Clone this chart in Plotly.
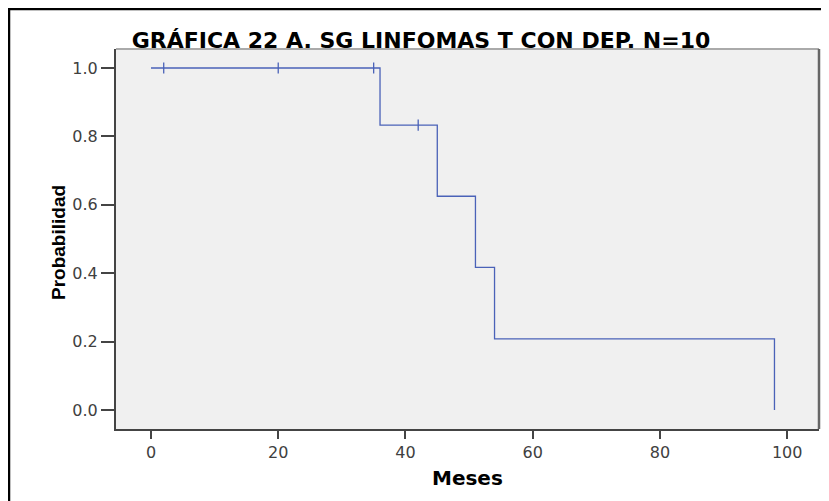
import plotly.graph_objects as go

# Kaplan-Meier step data
step_times = [0, 36, 45, 51, 54, 98]
step_surv = [1.0, 0.833, 0.625, 0.417, 0.208, 0.0]
censor_times = [2, 20, 35, 42]
censor_surv = [1.0, 1.0, 1.0, 0.833]
x_ticks = [0, 20, 40, 60, 80, 100]
y_ticks = [0.0, 0.2, 0.4, 0.6, 0.8, 1.0]
y_tick_labels = ["0.0", "0.2", "0.4", "0.6", "0.8", "1.0"]

line_color = "#4a62b8"
wide_font = "DejaVu Sans, Verdana, sans-serif"
arial = "Liberation Sans, Arial, sans-serif"

# page body has an 8px margin: work in figure pixels = reference pixels - 8
OFF = 8
W, H = 829 - OFF, 501 - OFF
L, R, T, B = 116 - OFF, 819 - OFF, 49 - OFF, 429 - OFF
pw, ph = R - L, B - T

def px(xp):
    return (xp - OFF - L) / pw

def py(yp):
    return (B - (yp - OFF)) / ph

fig = go.Figure()
fig.add_trace(go.Scatter(
    x=step_times, y=step_surv, mode="lines", line_shape="hv",
    line=dict(color=line_color, width=1.3), showlegend=False, hoverinfo="skip"))
fig.add_trace(go.Scatter(
    x=censor_times, y=censor_surv, mode="markers",
    marker=dict(symbol="line-ns", size=8, line=dict(color=line_color, width=1.3)),
    showlegend=False, hoverinfo="skip"))

fig.update_layout(
    width=W, height=H,
    margin=dict(l=L, r=W - R, t=T, b=H - B),
    paper_bgcolor="white", plot_bgcolor="#f0f0f0",
    font=dict(family=wide_font, color="#404040"),
    title=dict(text="<b>GRÁFICA 22 A. SG LINFOMAS T CON DEP. N=10</b>",
               x=(421 - OFF) / W, xanchor="center", xref="container",
               y=1 - (40 - OFF) / H, yanchor="middle", yref="container",
               font=dict(size=22, color="black", family=wide_font)),
    xaxis=dict(range=[-5.5, 105], tickvals=x_ticks, ticks="outside", ticklen=8,
               tickwidth=2, tickcolor="#444", showgrid=False, zeroline=False,
               showline=True, linecolor="#444", linewidth=2,
               tickfont=dict(size=16, color="#404040", family=wide_font)),
    yaxis=dict(range=[-0.0556, 1.0556], tickvals=y_ticks, ticktext=y_tick_labels,
               ticks="outside", ticklen=13, tickwidth=2, tickcolor="#444",
               showgrid=False, zeroline=False, showline=True, linecolor="#444",
               linewidth=2, tickfont=dict(size=16, color="#404040", family=wide_font)),
    annotations=[
        dict(text="<b>Probabilidad</b>", textangle=-90, x=px(58), y=py(243),
             xref="paper", yref="paper", xanchor="center", yanchor="middle",
             showarrow=False,
             font=dict(size=19, color="black", family=arial)),
        dict(text="<b>Meses</b>", x=px(467), y=py(478), xref="paper", yref="paper",
             xanchor="center", yanchor="middle",
             showarrow=False, font=dict(size=20, color="black", family=wide_font)),
    ],
    shapes=[
        # plot frame top and right
        dict(type="line", xref="paper", yref="paper", x0=0, x1=1, y0=1, y1=1,
             line=dict(color="#aaaaaa", width=2)),
        dict(type="line", xref="paper", yref="paper", x0=1, x1=1, y0=0, y1=1,
             line=dict(color="#666666", width=2.5)),
        # outer black frame (left and top)
        dict(type="line", xref="paper", yref="paper", x0=px(9), x1=px(9),
             y0=py(520), y1=py(9), line=dict(color="black", width=2.5)),
        dict(type="line", xref="paper", yref="paper", x0=px(8), x1=px(850),
             y0=py(9), y1=py(9), line=dict(color="black", width=2.5)),
    ],
)

fig.write_html("out.html")
